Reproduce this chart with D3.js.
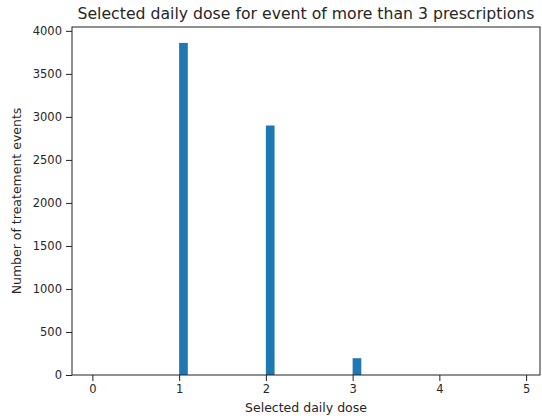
<!DOCTYPE html>
<html>
<head>
<meta charset="utf-8">
<script src="https://cdn.jsdelivr.net/npm/d3@7"></script>
<style>
  html, body { margin: 0; padding: 0; background: #fff; }
  svg text { font-family: "DejaVu Sans", sans-serif; fill: #262626; }
</style>
</head>
<body>
<svg id="chart" width="542" height="416"></svg>
<script>
const binStarts = [1, 2, 3];
const binWidth = 0.1;
const counts = [3860, 2900, 195];
const xTicks = [0, 1, 2, 3, 4, 5];
const yTicks = [0, 500, 1000, 1500, 2000, 2500, 3000, 3500, 4000];
const titleText = "Selected daily dose for event of more than 3 prescriptions";
const xLabel = "Selected daily dose";
const yLabel = "Number of treatement events";

const svg = d3.select("#chart");
const L = 72, R = 540, T = 27, B = 375;

const x = d3.scaleLinear().domain([-0.235, 5.16]).range([L, R]);
const y = d3.scaleLinear().domain([0, 4045]).range([B, T]);

svg.append("g").selectAll("rect").data(binStarts).join("rect")
  .attr("x", d => x(d))
  .attr("width", d => x(d + binWidth) - x(d))
  .attr("y", (d, i) => y(counts[i]))
  .attr("height", (d, i) => B - y(counts[i]))
  .attr("fill", "#1f77b4");

const xAxis = svg.append("g").attr("transform", `translate(0,${B})`)
  .call(d3.axisBottom(x).tickValues(xTicks).tickFormat(d3.format("d")).tickSize(6).tickPadding(4));
const yAxis = svg.append("g").attr("transform", `translate(${L},0)`)
  .call(d3.axisLeft(y).tickValues(yTicks).tickFormat(d3.format("d")).tickSize(6).tickPadding(4));
[xAxis, yAxis].forEach(g => {
  g.select(".domain").remove();
  g.selectAll("line").attr("stroke", "#222").attr("stroke-width", 1);
  g.selectAll("text").attr("font-size", 11.5).attr("fill", "#262626").attr("font-family", "DejaVu Sans, sans-serif");
});

svg.append("rect").attr("x", L).attr("y", T).attr("width", R - L).attr("height", B - T)
  .attr("fill", "none").attr("stroke", "#222").attr("stroke-width", 1);

svg.append("text").attr("x", (L + R) / 2).attr("y", 19).attr("text-anchor", "middle")
  .attr("font-size", 15.7).text(titleText);
svg.append("text").attr("x", (L + R) / 2).attr("y", 412).attr("text-anchor", "middle")
  .attr("font-size", 12.5).text(xLabel);
svg.append("text").attr("transform", `translate(21,${(T + B) / 2}) rotate(-90)`).attr("text-anchor", "middle")
  .attr("font-size", 12.5).text(yLabel);
</script>
</body>
</html>
